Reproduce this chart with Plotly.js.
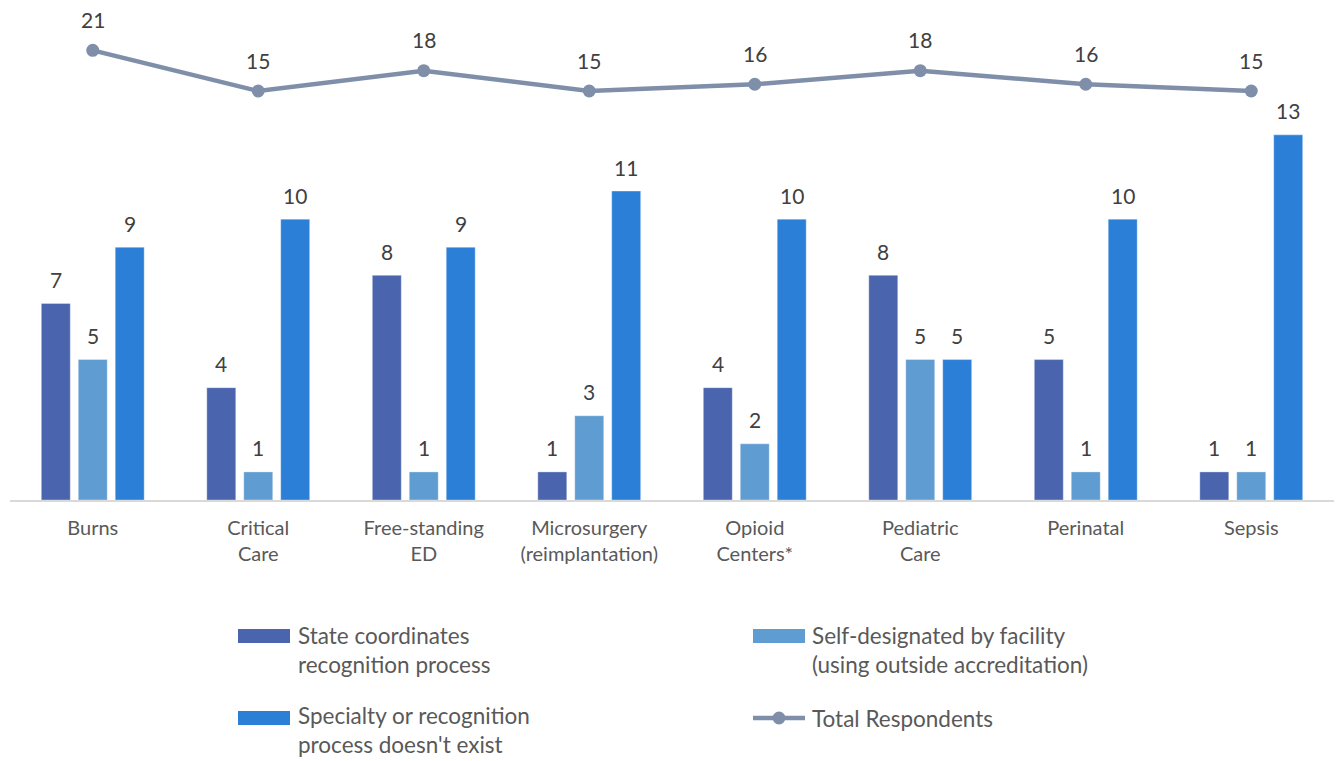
<!DOCTYPE html>
<html>
<head>
<meta charset="utf-8">
<script src="https://cdn.plot.ly/plotly-3.0.1.min.js"></script>
<style>html,body{margin:0;padding:0;background:#fff;}#chart{width:1338px;height:761px;}</style>
</head>
<body>
<div id="chart"></div>
<script>
// ---- data ----
const categories = ['Burns', 'Critical Care', 'Free-standing ED', 'Microsurgery (reimplantation)', 'Opioid Centers*', 'Pediatric Care', 'Perinatal', 'Sepsis'];
const tickLabels = ['Burns', 'Critical<br>Care', 'Free-standing<br>ED', 'Microsurgery<br>(reimplantation)', 'Opioid<br>Centers*', 'Pediatric<br>Care', 'Perinatal', 'Sepsis'];
const stateCoordinates = [7, 4, 8, 1, 4, 8, 5, 1];
const selfDesignated = [5, 1, 1, 3, 2, 5, 1, 1];
const noSpecialty = [9, 10, 9, 11, 10, 5, 10, 13];
const totalRespondents = [21, 15, 18, 15, 16, 18, 16, 15];
const seriesNames = ['State coordinates<br>recognition process', 'Self-designated by facility<br>(using outside accreditation)', 'Specialty or recognition<br>process doesn\'t exist', 'Total Respondents'];

// ---- style ----
const FONT = 'Lato, "Open Sans", sans-serif';
const colors = ['#4A65AE', '#5F9CD1', '#2B7FD7', '#7F8FAA'];
const W = 1338, H = 761;
const M = {l: 10, r: 4, t: 20, b: 261};
const plotW = W - M.l - M.r, plotH = H - M.t - M.b;
const px = x => (x - M.l) / plotW;
const py = y => (H - M.b - y) / plotH;

const barSeries = [stateCoordinates, selfDesignated, noSpecialty];
const traces = barSeries.map((vals, i) => ({
  type: 'bar', x: categories, y: vals, name: seriesNames[i],
  marker: {color: colors[i], line: {color: 'rgba(255,255,255,0.35)', width: 1}},
  hoverinfo: 'skip', showlegend: false
}));
traces.push({
  type: 'scatter', mode: 'lines+markers', x: categories, y: totalRespondents, yaxis: 'y2',
  name: seriesNames[3], line: {color: colors[3], width: 4.5}, marker: {color: colors[3], size: 13},
  hoverinfo: 'skip', showlegend: false, cliponaxis: false
});

const annotations = [];
const xShifts = [-37, 0, 37];
barSeries.forEach((vals, i) => {
  vals.forEach((v, j) => annotations.push({
    x: categories[j], y: v, xref: 'x', yref: 'y', text: String(v), showarrow: false,
    xshift: xShifts[i], yshift: 24, yanchor: 'middle', font: {family: FONT, size: 21, color: '#404040'}
  }));
});
totalRespondents.forEach((v, j) => annotations.push({
  x: categories[j], y: v, xref: 'x', yref: 'y2', text: String(v), showarrow: false,
  yshift: 31, yanchor: 'middle', font: {family: FONT, size: 21, color: '#404040'}
}));

// custom legend
const shapes = [];
const legendItems = [
  {kind: 'bar', color: colors[0], x: 238, y: 636, tx: 296, ty: 650, text: seriesNames[0]},
  {kind: 'bar', color: colors[1], x: 753, y: 636, tx: 810, ty: 650, text: seriesNames[1]},
  {kind: 'bar', color: colors[2], x: 238, y: 718, tx: 296, ty: 730, text: seriesNames[2]},
  {kind: 'line', color: colors[3], x: 753, y: 718, tx: 810, ty: 718, text: seriesNames[3]}
];
legendItems.forEach(it => {
  if (it.kind === 'bar') {
    shapes.push({type: 'rect', xref: 'paper', yref: 'paper', x0: px(it.x), x1: px(it.x + 52), y0: py(it.y - 7), y1: py(it.y + 7),
      fillcolor: it.color, line: {width: 0}});
  } else {
    shapes.push({type: 'line', xref: 'paper', yref: 'paper', x0: px(it.x), x1: px(it.x + 52), y0: py(it.y), y1: py(it.y),
      line: {color: it.color, width: 4.5}});
    shapes.push({type: 'circle', xref: 'paper', yref: 'paper', x0: px(it.x + 19.5), x1: px(it.x + 32.5), y0: py(it.y - 6.5), y1: py(it.y + 6.5),
      fillcolor: it.color, line: {width: 0}});
  }
  annotations.push({xref: 'paper', yref: 'paper', x: px(it.tx), y: py(it.ty), xanchor: 'left', yanchor: 'middle', align: 'left',
    text: it.text, showarrow: false, font: {family: FONT, size: 22.5, color: '#595959'}});
});

const layout = {
  width: W, height: H, margin: M, paper_bgcolor: '#fff', plot_bgcolor: '#fff',
  font: {family: FONT, color: '#595959'},
  barmode: 'group', bargap: 0.33, bargroupgap: 0.216,
  showlegend: false,
  xaxis: {type: 'category', tickvals: categories, ticktext: tickLabels, showgrid: false, zeroline: false,
    showline: true, linecolor: '#D9D9D9', linewidth: 1.5, ticks: '', ticklabelstandoff: 9,
    tickfont: {family: FONT, size: 20, color: '#595959'}, fixedrange: true},
  yaxis: {visible: false, range: [0, 17.09], fixedrange: true},
  yaxis2: {visible: false, overlaying: 'y', range: [-45.3, 25.47], fixedrange: true},
  shapes: shapes, annotations: annotations
};
Plotly.newPlot('chart', traces, layout, {displayModeBar: false, staticPlot: true});
</script>
</body>
</html>
